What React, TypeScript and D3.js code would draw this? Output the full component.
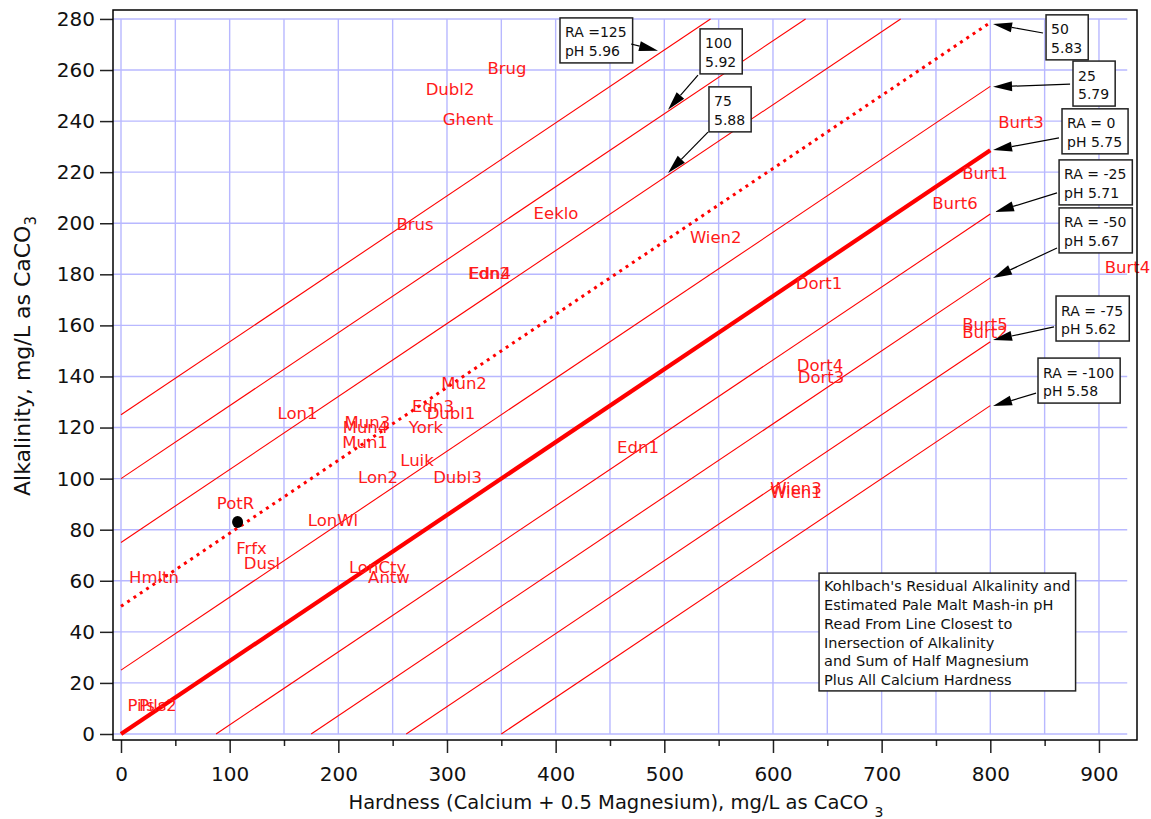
import React, { useEffect, useRef } from "react";
import * as d3 from "d3";

const W = 1151;
const H = 819;

// Kolbach residual alkalinity lines (each from where it enters to where it leaves the plot)
const raValues = [125, 100, 75, 50, 25, 0, -25, -50, -75, -100];
const lineStartHard = [0, 0, 0, 0, 0, 0, 87.5, 175, 262.5, 350];
const lineStartAlk = [125, 100, 75, 50, 25, 0, 0, 0, 0, 0];
const lineEndHard = [542.5, 630, 717.5, 800, 800, 800, 800, 800, 800, 800];
const lineEndAlk = [280, 280, 280, 278.6, 253.6, 228.6, 203.6, 178.6, 153.6, 128.6];

// brewing city waters
const cityNames = [
  "Brug", "Dubl2", "Ghent", "Brus", "Eeklo", "Edn2", "Edn4", "Wien2",
  "Burt3", "Burt1", "Burt6", "Burt4", "Burt5", "Burt2", "Dort1", "Dort4", "Dort3",
  "Mun2", "Edn3", "Dubl1", "York", "Mun3", "Mun4", "Mun1", "Luik", "Lon2", "Dubl3",
  "Lon1", "Edn1", "Wien3", "Wien1", "PotR", "LonWl", "Frfx", "Dusl", "LonCty",
  "Antw", "Hmltn", "Pils", "Pils2",
];
const cityHard = [
  355.2, 302.8, 319.3, 270.6, 400.3, 338.7, 339.6, 547.3,
  828.3, 795.1, 767.5, 926.3, 795.1, 795.1, 642.4, 643.3, 644.2,
  315.7, 287.1, 303.7, 280.7, 226.8, 225.0, 224.6, 272.4, 236.5, 309.7,
  162.4, 475.8, 621.2, 621.2, 105.4, 195.1, 120.1, 129.8, 236.1,
  246.6, 30.4, 18.5, 34.0,
];
const cityAlk = [
  260.8, 252.6, 240.8, 199.7, 204.0, 180.5, 180.5, 194.6,
  239.7, 219.7, 207.9, 182.9, 160.6, 157.5, 176.7, 144.5, 139.7,
  137.6, 128.4, 125.6, 120.3, 122.3, 120.3, 114.2, 107.3, 100.8, 100.8,
  125.6, 112.2, 96.3, 94.8, 90.3, 83.8, 72.7, 66.8, 65.5,
  61.4, 61.4, 11.4, 11.4,
];

// user's water
const markHard = [107.3];
const markAlk = [83.0];

// RA / pH callouts
const calloutText = [
  ["RA =125", "pH 5.96"],
  ["100", "5.92"],
  ["75", "5.88"],
  ["50", "5.83"],
  ["25", "5.79"],
  ["RA = 0", "pH 5.75"],
  ["RA = -25", "pH 5.71"],
  ["RA = -50", "pH 5.67"],
  ["RA = -75", "pH 5.62"],
  ["RA = -100", "pH 5.58"],
];
const calloutBoxHard = [404.0, 532.9, 541.1, 851.3, 876.1, 866.0, 863.3, 863.3, 860.5, 843.9];
const calloutBoxAlk = [280.4, 276.1, 253.4, 281.6, 263.5, 244.8, 224.8, 206.0, 171.5, 147.2];
const tailHard = [469.4, 531.0, 540.2, 848.5, 873.4, 863.2, 861.4, 861.4, 858.6, 842.1];
const tailAlk = [270.2, 258.0, 235.7, 274.5, 254.5, 233.4, 211.9, 190.3, 159.4, 133.5];
const tipHard = [494.2, 503.4, 503.4, 802.5, 802.5, 802.5, 804.3, 802.5, 802.5, 802.5];
const tipAlk = [267.5, 244.4, 219.7, 278.0, 253.4, 228.7, 204.4, 178.6, 154.3, 128.4];

const noteLines = [
  "Kohlbach's Residual Alkalinity and",
  "Estimated Pale Malt Mash-in pH",
  "Read From Line Closest to",
  "Inersection of Alkalinity",
  "and Sum of Half Magnesium",
  "Plus All Calcium Hardness",
];
const noteHard = 642.4;
const noteAlk = 63.0;

const xMajor = d3.range(0, 901, 100);
const xMinor = d3.range(50, 901, 100);
const yMajor = d3.range(0, 281, 20);
const xGrid = d3.range(0, 901, 50);

const FONT = "DejaVu Sans, Verdana, sans-serif";

export default function App() {
  const ref = useRef<SVGSVGElement>(null);

  useEffect(() => {
    const svg = d3.select(ref.current);
    svg.selectAll("*").remove();

    const x = d3.scaleLinear().domain([-7.36, 935]).range([113, 1137]);
    const y = d3.scaleLinear().domain([-2.35, 283.5]).range([740, 10]);

    svg.append("rect").attr("width", W).attr("height", H).attr("fill", "#fff");

    // grid
    const grid = svg.append("g").attr("stroke", "#b8b8ff").attr("stroke-width", 1.4);
    grid.selectAll("line.v").data(xGrid).enter().append("line")
      .attr("x1", d => x(d)).attr("x2", d => x(d))
      .attr("y1", y(0)).attr("y2", y(280));
    grid.selectAll("line.h").data(yMajor).enter().append("line")
      .attr("x1", x(-7.36)).attr("x2", x(926))
      .attr("y1", d => y(d)).attr("y2", d => y(d));

    // RA lines
    const lines = svg.append("g").attr("fill", "none").attr("stroke", "#ff0000");
    raValues.forEach((ra, i) => {
      const l = lines.append("line")
        .attr("x1", x(lineStartHard[i])).attr("y1", y(lineStartAlk[i]))
        .attr("x2", x(lineEndHard[i])).attr("y2", y(lineEndAlk[i]));
      if (ra === 0) l.attr("stroke-width", 4.2);
      else if (ra === 50) l.attr("stroke-width", 3).attr("stroke-dasharray", "3,4.6");
      else l.attr("stroke-width", 1.1);
    });

    // city labels
    svg.append("g")
      .attr("font-family", FONT).attr("font-size", 16.5).attr("fill", "#ff1a1a")
      .attr("text-anchor", "middle")
      .selectAll("text").data(cityNames).enter().append("text")
      .attr("x", (_, i) => x(cityHard[i]))
      .attr("y", (_, i) => y(cityAlk[i]))
      .attr("dy", "0.36em")
      .text(d => d);

    // user's water
    svg.selectAll("ellipse.mark").data(markHard).enter().append("ellipse")
      .attr("cx", (d) => x(d)).attr("cy", (_, i) => y(markAlk[i]))
      .attr("rx", 5.5).attr("ry", 6).attr("fill", "#000");

    // axes
    const xAxis = svg.append("g").attr("transform", "translate(0,740)")
      .call(d3.axisBottom(x).tickValues(xMajor).tickSize(13).tickPadding(14).tickFormat(d3.format("d")));
    svg.append("g").attr("transform", "translate(0,740)")
      .call(d3.axisBottom(x).tickValues(xMinor).tickSize(6).tickFormat(() => ""))
      .select(".domain").remove();
    const yAxis = svg.append("g").attr("transform", "translate(113,0)")
      .call(d3.axisLeft(y).tickValues(yMajor).tickSize(13).tickPadding(5).tickFormat(d3.format("d")));
    [xAxis, yAxis].forEach(a => {
      a.select(".domain").remove();
      a.selectAll("text").attr("font-family", FONT).attr("font-size", 20).attr("fill", "#111");
    });
    svg.selectAll(".tick line").attr("stroke", "#222").attr("stroke-width", 1.5);

    // frame
    svg.append("rect").attr("x", 113).attr("y", 10).attr("width", 1024).attr("height", 730)
      .attr("fill", "none").attr("stroke", "#000").attr("stroke-width", 1.5);

    // axis titles
    const xt = svg.append("text").attr("x", 616).attr("y", 809)
      .attr("text-anchor", "middle").attr("font-family", FONT).attr("font-size", 19.5).attr("fill", "#111");
    xt.append("tspan").text("Hardness (Calcium + 0.5 Magnesium), mg/L as CaCO ");
    xt.append("tspan").attr("font-size", 14).attr("dy", 8).text("3");

    const yt = svg.append("text").attr("transform", "translate(30,356) rotate(-90)")
      .attr("text-anchor", "middle").attr("font-family", FONT).attr("font-size", 22).attr("fill", "#111");
    yt.append("tspan").text("Alkalinity, mg/L as CaCO");
    yt.append("tspan").attr("font-size", 15).attr("dy", 6).text("3");

    // callouts
    const cg = svg.append("g");
    calloutText.forEach((lns, i) => {
      const bx = x(calloutBoxHard[i]);
      const by = y(calloutBoxAlk[i]);
      const g = cg.append("g");
      const rect = g.append("rect").attr("fill", "#fff").attr("stroke", "#222").attr("stroke-width", 1.5);
      let maxW = 0;
      lns.forEach((t, j) => {
        const tx = g.append("text").attr("x", bx + 5).attr("y", by + 19.5 + j * 18.3)
          .attr("font-family", FONT).attr("font-size", 14).attr("fill", "#111").text(t);
        maxW = Math.max(maxW, (tx.node() as SVGTextElement).getComputedTextLength());
      });
      rect.attr("x", bx).attr("y", by).attr("width", maxW + 11).attr("height", lns.length * 18.3 + 8.4);

      const x0 = x(tailHard[i]), y0 = y(tailAlk[i]);
      const x1 = x(tipHard[i]), y1 = y(tipAlk[i]);
      const ang = Math.atan2(y1 - y0, x1 - x0);
      const len = 19, hw = 5;
      const bxh = x1 - len * Math.cos(ang), byh = y1 - len * Math.sin(ang);
      g.append("line").attr("x1", x0).attr("y1", y0).attr("x2", bxh).attr("y2", byh)
        .attr("stroke", "#000").attr("stroke-width", 1.2);
      const p = [
        [x1, y1],
        [bxh + hw * Math.sin(ang), byh - hw * Math.cos(ang)],
        [bxh - hw * Math.sin(ang), byh + hw * Math.cos(ang)],
      ];
      g.append("path").attr("d", "M" + p.map(q => q.join(",")).join("L") + "Z").attr("fill", "#000");
    });

    // note box
    const nx = x(noteHard), ny = y(noteAlk);
    const ng = svg.append("g");
    const nrect = ng.append("rect").attr("fill", "#fff").attr("stroke", "#222").attr("stroke-width", 1.5);
    let nW = 0;
    noteLines.forEach((t, j) => {
      const tx = ng.append("text").attr("x", nx + 5).attr("y", ny + 18 + j * 18.8)
        .attr("font-family", FONT).attr("font-size", 14.5).attr("fill", "#111").text(t);
      nW = Math.max(nW, (tx.node() as SVGTextElement).getComputedTextLength());
    });
    nrect.attr("x", nx).attr("y", ny).attr("width", nW + 10).attr("height", noteLines.length * 18.8 + 5);
  }, []);

  return (
    <svg ref={ref} width={W} height={H} style={{ position: "absolute", left: 0, top: 0, display: "block" }} />
  );
}
